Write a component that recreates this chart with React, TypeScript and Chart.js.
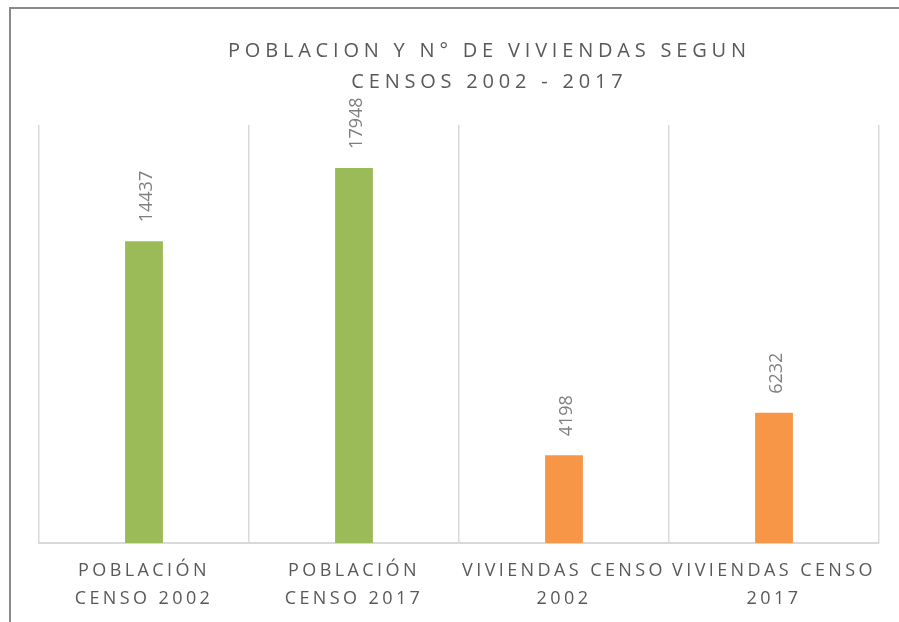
import React, { useEffect, useRef } from 'react';
import { Chart, registerables } from 'chart.js';

Chart.register(...registerables);

const titleLines: string[] = ['POBLACION Y N° DE VIVIENDAS SEGUN', 'CENSOS 2002 - 2017'];
const categories: string[][] = [
  ['POBLACIÓN', 'CENSO 2002'],
  ['POBLACIÓN', 'CENSO 2017'],
  ['VIVIENDAS CENSO', '2002'],
  ['VIVIENDAS CENSO', '2017'],
];
const values: number[] = [14437, 17948, 4198, 6232];
const barColors: string[] = ['#9BBB59', '#9BBB59', '#F79646', '#F79646'];
const yMin = 0;
const yMax = 20000;

const FONT = '"Open Sans", sans-serif';
const TICK_SPACING = '3.4px';
const TITLE_SPACING = 4.8;

const framePlugin = {
  id: 'frameAndSpacing',
  beforeLayout(chart: any) {
    chart.ctx.letterSpacing = TICK_SPACING;
  },
  beforeDraw(chart: any) {
    const ctx = chart.ctx;
    ctx.letterSpacing = TICK_SPACING;
    ctx.save();
    ctx.strokeStyle = '#8a8a8a';
    ctx.lineWidth = 2;
    ctx.beginPath();
    ctx.moveTo(10, 622);
    ctx.lineTo(10, 8);
    ctx.lineTo(899, 8);
    ctx.stroke();
    ctx.restore();
  },
};

const labelsPlugin = {
  id: 'valueLabels',
  afterDatasetsDraw(chart: any) {
    const ctx = chart.ctx;
    const meta = chart.getDatasetMeta(0);
    meta.data.forEach((bar: any, i: number) => {
      ctx.save();
      ctx.letterSpacing = '0px';
      ctx.font = `18px ${FONT}`;
      ctx.fillStyle = '#7f7f7f';
      ctx.translate(bar.x + 8, bar.y - 19);
      ctx.rotate(-Math.PI / 2);
      ctx.textAlign = 'left';
      ctx.textBaseline = 'alphabetic';
      ctx.fillText(String(chart.data.datasets[0].data[i]), 0, 0);
      ctx.restore();
    });
  },
};

const titlePlugin = {
  id: 'spacedTitle',
  afterDraw(chart: any) {
    const ctx = chart.ctx;
    ctx.save();
    ctx.letterSpacing = `${TITLE_SPACING}px`;
    ctx.font = `20px ${FONT}`;
    ctx.fillStyle = '#595959';
    ctx.textAlign = 'center';
    ctx.textBaseline = 'alphabetic';
    const cx = 487 + TITLE_SPACING / 2;
    ctx.fillText(titleLines[0], cx, 57);
    ctx.fillText(titleLines[1], cx, 88);
    ctx.restore();
  },
};

export default function App() {
  const canvasRef = useRef<HTMLCanvasElement | null>(null);

  useEffect(() => {
    const canvas = canvasRef.current;
    if (!canvas) return;
    const chart = new Chart(canvas, {
      type: 'bar',
      data: {
        labels: categories,
        datasets: [
          {
            data: values,
            backgroundColor: barColors,
            borderWidth: 0,
            barPercentage: 0.18,
            categoryPercentage: 1,
          },
        ],
      },
      options: {
        responsive: false,
        animation: false,
        devicePixelRatio: 1,
        layout: { padding: { left: 39, right: 20, top: 125, bottom: 0 } },
        plugins: {
          legend: { display: false },
          title: { display: false },
          tooltip: { enabled: false },
        },
        scales: {
          x: {
            offset: true,
            afterFit(scale: any) {
              scale.height = 79;
            },
            grid: {
              offset: true,
              color: '#d9d9d9',
              lineWidth: 1.5,
              drawTicks: false,
            },
            border: { color: '#d9d9d9', width: 2 },
            ticks: {
              autoSkip: false,
              maxRotation: 0,
              minRotation: 0,
              padding: 14,
              color: '#595959',
              font: { family: FONT, size: 18, lineHeight: 1.556 },
            },
          },
          y: {
            display: false,
            min: yMin,
            max: yMax,
          },
        },
      },
      plugins: [framePlugin, labelsPlugin, titlePlugin],
    });
    return () => chart.destroy();
  }, []);

  return (
    <div style={{ position: 'fixed', left: 0, top: 0, width: 899, height: 622, background: '#fff' }}>
      <canvas ref={canvasRef} width={899} height={622} style={{ display: 'block', width: 899, height: 622 }} />
    </div>
  );
}
